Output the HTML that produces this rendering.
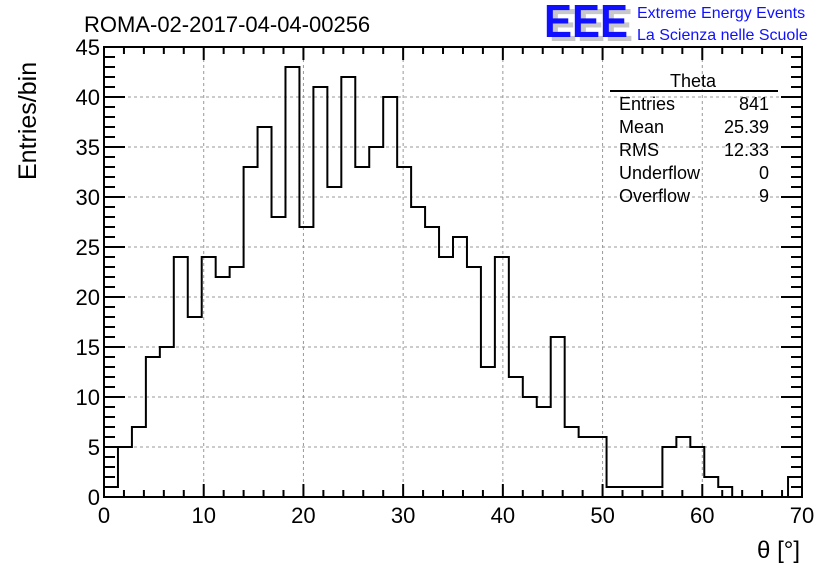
<!DOCTYPE html>
<html><head><meta charset="utf-8"><style>
body{margin:0;background:#fff;}
svg{display:block;font-family:"Liberation Sans",sans-serif;}
</style></head><body>
<svg id="chart" width="836" height="572" viewBox="0 0 836 572">
<text x="84" y="32" font-size="22">ROMA-02-2017-04-04-00256</text>
<g>
<text x="549" y="41" font-size="46" font-weight="bold" fill="#c8c8c8" textLength="84" lengthAdjust="spacingAndGlyphs">EEE</text>
<text x="544" y="37" font-size="46" font-weight="bold" fill="#1010ff" textLength="84" lengthAdjust="spacingAndGlyphs">EEE</text>
<text x="637" y="18" font-size="16" fill="#1010ff">Extreme Energy Events</text>
<text x="637" y="40" font-size="16" fill="#1010ff">La Scienza nelle Scuole</text>
</g>
<g id="grid"></g>
<g id="ticks"></g>
<g id="labels"></g>
<path id="hist" fill="none" stroke="#000" stroke-width="2"/>
<rect x="104" y="47" width="698" height="450" fill="none" stroke="#000" stroke-width="2"/>
<text transform="translate(36,180) rotate(-90)" font-size="25">Entries/bin</text>
<text x="800" y="558" font-size="24" text-anchor="end">θ [°]</text>
<g font-size="18">
<text x="693" y="87" text-anchor="middle">Theta</text>
<line x1="610" y1="91" x2="778" y2="91" stroke="#000" stroke-width="2"/>
<text x="619" y="110">Entries</text><text x="769" y="110" text-anchor="end">841</text>
<text x="619" y="133">Mean</text><text x="769" y="133" text-anchor="end">25.39</text>
<text x="619" y="156">RMS</text><text x="769" y="156" text-anchor="end">12.33</text>
<text x="619" y="179">Underflow</text><text x="769" y="179" text-anchor="end">0</text>
<text x="619" y="202">Overflow</text><text x="769" y="202" text-anchor="end">9</text>
</g>
</svg>
<script>
const counts = [1,5,7,14,15,24,18,24,22,23,33,37,28,43,27,41,31,42,33,35,40,33,29,27,24,26,23,13,24,12,10,9,16,7,6,6,1,1,1,1,5,6,5,2,1,0,0,0,0,2];
const xRange = [0,70];
const yRange = [0,45];
const xTickLabels = [0,10,20,30,40,50,60,70];
const yTickLabels = [0,5,10,15,20,25,30,35,40,45];
const NS="http://www.w3.org/2000/svg";
const L=104,R=802,T=47,B=497;
const sx=v=>L+(v-xRange[0])/(xRange[1]-xRange[0])*(R-L);
const sy=v=>B-(v-yRange[0])/(yRange[1]-yRange[0])*(B-T);
function mk(tag,attrs,parent){const e=document.createElementNS(NS,tag);for(const k in attrs)e.setAttribute(k,attrs[k]);parent.appendChild(e);return e;}
const grid=document.getElementById('grid'),ticks=document.getElementById('ticks'),labels=document.getElementById('labels');
xTickLabels.forEach(v=>{const x=sx(v);
 if(v>xRange[0]&&v<xRange[1]){const g=mk('line',{x1:x,x2:x,y1:T,y2:B,stroke:'#999','stroke-dasharray':'3,3','stroke-width':1},grid);}
 const t=mk('text',{x:x,y:523,'font-size':22,'text-anchor':'middle'},labels);t.textContent=v;
 });
yTickLabels.forEach(v=>{const y=sy(v);
 if(v>yRange[0]&&v<yRange[1]){const g=mk('line',{x1:L,x2:R,y1:y,y2:y,stroke:'#999','stroke-dasharray':'3,3','stroke-width':1},grid);}
 const t=mk('text',{x:100,y:y+8,'font-size':22,'text-anchor':'end'},labels);t.textContent=v;
 });
let d='';
for(let v=xRange[0];v<=xRange[1];v+=2){const x=sx(v);const len=(v%10===0)?13:7;
 d+=`M${x},${B}v${-len}M${x},${T}v${len}`;}
for(let v=yRange[0];v<=yRange[1];v+=1){const y=sy(v);const len=(v%5===0)?21:11;
 d+=`M${L},${y}h${len}M${R},${y}h${-len}`;}
mk('path',{d:d,stroke:'#000','stroke-width':2,fill:'none'},ticks);
const w=(xRange[1]-xRange[0])/counts.length;
let p=`M${sx(xRange[0])},${sy(0)}`;
counts.forEach((c,i)=>{p+=`L${sx(xRange[0]+i*w)},${sy(c)}L${sx(xRange[0]+(i+1)*w)},${sy(c)}`;});
p+=`L${sx(xRange[1])},${sy(0)}`;
document.getElementById('hist').setAttribute('d',p);
</script>
</body></html>
